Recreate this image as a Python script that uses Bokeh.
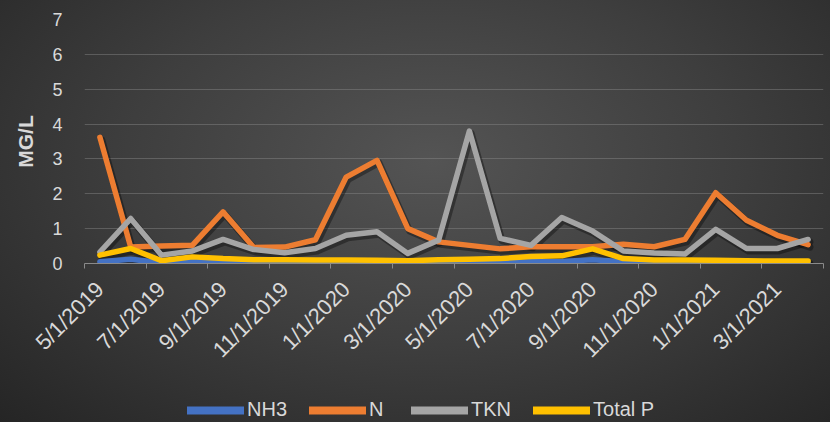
import math
from bokeh.plotting import figure
from bokeh.layouts import column
from bokeh.models import (ColumnDataSource, FixedTicker, Legend, LegendItem,
                          GlobalInlineStyleSheet)
from bokeh.transform import dodge
from bokeh.embed import file_html
from bokeh.resources import INLINE

# ---- data ----
months = ["5/1/2019", "6/1/2019", "7/1/2019", "8/1/2019", "9/1/2019", "10/1/2019",
          "11/1/2019", "12/1/2019", "1/1/2020", "2/1/2020", "3/1/2020", "4/1/2020",
          "5/1/2020", "6/1/2020", "7/1/2020", "8/1/2020", "9/1/2020", "10/1/2020",
          "11/1/2020", "12/1/2020", "1/1/2021", "2/1/2021", "3/1/2021", "4/1/2021"]
nh3 = [0.05, 0.12, 0.02, 0.07, 0.05, 0.04, 0.03, 0.03, 0.03, 0.02, 0.02, 0.02,
       0.02, 0.03, 0.05, 0.06, 0.11, 0.05, 0.03, 0.03, 0.03, 0.03, 0.03, 0.03]
n = [3.62, 0.47, 0.5, 0.52, 1.48, 0.46, 0.47, 0.68, 2.48, 2.96, 1.0, 0.62,
     0.52, 0.42, 0.48, 0.48, 0.48, 0.55, 0.48, 0.69, 2.03, 1.24, 0.81, 0.54]
tkn = [0.33, 1.29, 0.24, 0.36, 0.69, 0.4, 0.31, 0.43, 0.81, 0.91, 0.29, 0.67,
       3.8, 0.72, 0.52, 1.32, 0.93, 0.36, 0.3, 0.27, 0.98, 0.43, 0.43, 0.69]
total_p = [0.24, 0.43, 0.08, 0.19, 0.14, 0.11, 0.11, 0.1, 0.1, 0.09, 0.08, 0.11,
           0.12, 0.14, 0.2, 0.22, 0.42, 0.14, 0.1, 0.1, 0.09, 0.08, 0.07, 0.07]
series_names = ["NH3", "N", "TKN", "Total P"]
series_colors = ["#4472C4", "#ED7D31", "#A5A5A5", "#FFC000"]
y_ticks = [0, 1, 2, 3, 4, 5, 6, 7]

idx = list(range(len(months)))
src = ColumnDataSource(dict(x=idx, NH3=nh3, N=n, TKN=tkn, TP=total_p))
fields = ["NH3", "N", "TKN", "TP"]

TXT = "#d9d9d9"
FONT = "Liberation Sans"

p = figure(width=830, height=395, output_backend="svg", toolbar_location=None,
           x_range=(-0.5, len(months) - 0.5), y_range=(0, 7),
           min_border_left=84, min_border_right=7, min_border_top=19,
           min_border_bottom=132)
p.background_fill_alpha = 0
p.border_fill_alpha = 0
p.outline_line_color = None
p.stylesheets = [GlobalInlineStyleSheet(css=(
    "html { background: none; } "
    "body { background: radial-gradient(ellipse farthest-corner at 52% 38%, "
    "#545454 0%, #3e3e3e 50%, #252525 100%); }"))]

# grid
p.xgrid.grid_line_color = None
p.ygrid.grid_line_color = "#8a8a8a"
p.ygrid.grid_line_alpha = 0.45
p.ygrid.grid_line_width = 1
p.ygrid.ticker = FixedTicker(ticks=y_ticks)

# y axis
p.yaxis.ticker = FixedTicker(ticks=y_ticks)
p.yaxis.axis_line_color = None
p.yaxis.major_tick_line_color = None
p.yaxis.minor_tick_line_color = None
p.yaxis.major_label_text_color = TXT
p.yaxis.major_label_text_font = FONT
p.yaxis.major_label_text_font_size = "18px"
p.yaxis.major_label_standoff = 16
p.yaxis.axis_label = "MG/L"
p.yaxis.axis_label_text_color = TXT
p.yaxis.axis_label_text_font = FONT
p.yaxis.axis_label_text_font_style = "bold"
p.yaxis.axis_label_text_font_size = "21px"
p.yaxis.axis_label_standoff = 12

# x axis
p.xaxis.ticker = FixedTicker(ticks=idx[::2],
                             minor_ticks=[i - 0.5 for i in idx[::2]] + [len(months) - 0.5])
p.xaxis.major_label_overrides = {i: months[i] for i in idx[::2]}
p.xaxis.major_label_orientation = math.pi / 4
p.xaxis.major_tick_line_color = None
p.xaxis.minor_tick_line_color = "#8a8a8a"
p.xaxis.minor_tick_out = 5
p.xaxis.minor_tick_in = 0
p.xaxis.axis_line_color = "#8a8a8a"
p.xaxis.major_label_text_color = TXT
p.xaxis.major_label_text_font = FONT
p.xaxis.major_label_text_font_size = "22px"
p.xaxis.major_label_standoff = 16

# shadows
for f in fields:
    p.line(x=dodge("x", 0.06, range=p.x_range), y=dodge(f, -0.07, range=p.y_range),
           source=src, line_color="black", line_alpha=0.35, line_width=7,
           line_join="round", line_cap="round")

for f, col in zip(fields, series_colors):
    p.line(x="x", y=f, source=src, line_color=col, line_width=5.5,
           line_join="round", line_cap="round")

# ---- legend strip ----
lg = figure(width=830, height=27, output_backend="svg", toolbar_location=None,
            x_range=(0, 1), y_range=(0, 1), min_border=0)
lg.background_fill_alpha = 0
lg.border_fill_alpha = 0
lg.outline_line_color = None
lg.axis.visible = False
lg.grid.visible = False
# helper renderers (outside the visible range) that only supply legend swatches
helper = ColumnDataSource(dict(x=[-10, -9], y=[-10, -10]))
items = []
for name, col in zip(series_names, series_colors):
    r = lg.line(x="x", y="y", source=helper, line_color=col, line_width=8,
                line_cap="round")
    items.append(LegendItem(label=name, renderers=[r]))
legend = Legend(items=items, orientation="horizontal", location=(103, 1),
                background_fill_alpha=0, border_line_color=None,
                label_text_color=TXT, label_text_font=FONT,
                label_text_font_size="20px", glyph_width=57, glyph_height=20,
                label_standoff=3, spacing=22, margin=0, padding=0)
lg.add_layout(legend, "center")

layout = column(p, lg, spacing=0)
open("out.html", "w").write(file_html(layout, INLINE))
